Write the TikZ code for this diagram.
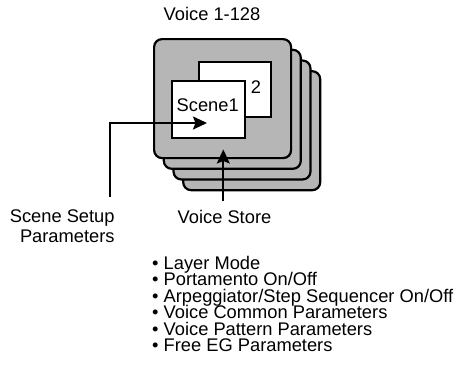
\documentclass[tikz,border=0pt]{standalone}
\usepackage{fontspec}
\setmainfont{Liberation Sans}
\usetikzlibrary{arrows.meta}
\definecolor{cardgray}{RGB}{182,182,182}
\begin{document}
\begin{tikzpicture}[x=1pt,y=-1pt,
  card/.style={draw=black, fill=cardgray, line width=2.2pt, rounded corners=8pt,
    minimum width=137pt, minimum height=119pt, inner sep=0pt, anchor=north west},
  page/.style={draw=black, fill=white, line width=2pt, inner sep=0pt, anchor=north west},
  lbl/.style={inner sep=0pt, font=\fontsize{18.3}{19}\selectfont},
  arr/.style={line width=2pt, -{Stealth[length=14pt,width=13pt,inset=2.5pt]}}]
\useasboundingbox (0,0) rectangle (456,378);
% stacked voice cards (back to front)
\node[card] (c3) at (182.1,70.1) {};
\node[card] (c2) at (172.4,59.4) {};
\node[card] (c1) at (162.7,48.7) {};
\node[card] (c0) at (153,38) {};
% scene pages
\node[page, minimum width=72pt, minimum height=55pt] (p2) at (198,61) {};
\node[page, minimum width=73pt, minimum height=57pt] (p1) at (171,80) {};
\node[lbl, anchor=base] (n2) at (256,93) {2};
\node[lbl, anchor=base] (s1) at (207.7,111.5) {Scene1};
% title
\node[lbl, anchor=base] (title) at (212,20.5) {Voice 1-128};
% labels
\node[lbl, anchor=base east] (ssa) at (114.8,222.5) {Scene Setup};
\node[lbl, anchor=base east] (ssb) at (114.8,242) {Parameters};
\node[lbl, anchor=base] (vs) at (224.5,223) {Voice Store};
% connectors
\coordinate (ssEnd) at (110,197);
\coordinate (ssTip) at (207,123);
\coordinate (vsEnd) at (223.3,201);
\coordinate (vsTip) at (223.3,149.5);
\draw[arr] (ssEnd) |- (ssTip);
\draw[arr] (vsEnd) -- (vsTip);
% bullet list
\node[lbl, anchor=base west] (l1) at (152,269.3) {\textbullet\ Layer Mode};
\node[lbl, anchor=base west] (l2) at (152,285.8) {\textbullet\ Portamento On/Off};
\node[lbl, anchor=base west] (l3) at (152,302.3) {\textbullet\ Arpeggiator/Step Sequencer On/Off};
\node[lbl, anchor=base west] (l4) at (152,318.8) {\textbullet\ Voice Common Parameters};
\node[lbl, anchor=base west] (l5) at (152,335.3) {\textbullet\ Voice Pattern Parameters};
\node[lbl, anchor=base west] (l6) at (152,351.8) {\textbullet\ Free EG Parameters};
\end{tikzpicture}
\end{document}
